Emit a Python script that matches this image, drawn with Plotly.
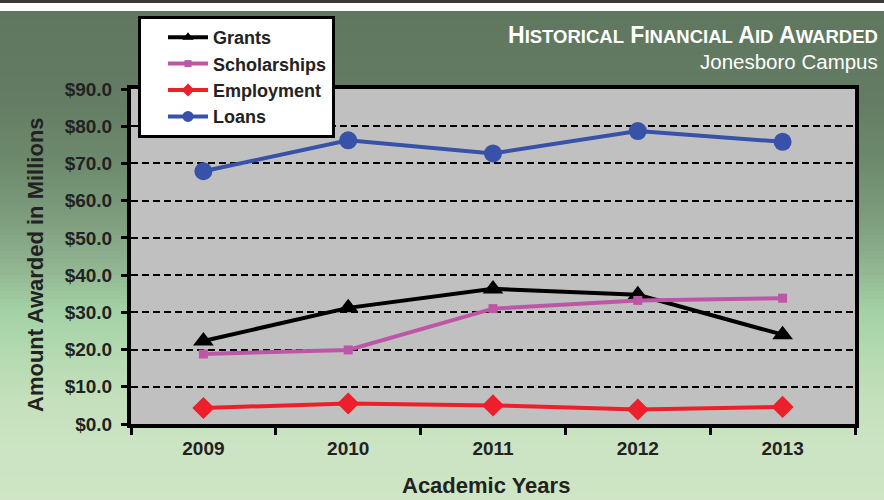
import plotly.graph_objects as go

years = ["2009", "2010", "2011", "2012", "2013"]
grants = [22.3, 31.2, 36.3, 34.7, 24.0]
scholarships = [18.8, 19.9, 31.0, 33.2, 33.8]
employment = [4.3, 5.5, 5.0, 3.9, 4.6]
loans = [67.9, 76.2, 72.7, 78.7, 75.8]

series_names = ["Grants", "Scholarships", "Employment", "Loans"]
title_caps = ["HISTORICAL", "FINANCIAL", "AID", "AWARDED"]
subtitle = "Jonesboro Campus"
ytitle = "Amount Awarded in Millions"
xtitle = "Academic Years"

W, H = 884, 500
L, R, T, B = 131, 855, 89, 424
FONT = "Arial, Liberation Sans, sans-serif"
TXT = "#222222"

def py(ypx):
    return (B - ypx) / (B - T)

def px_(xpx):
    return (xpx - L) / (R - L)

styles = [
    dict(color="#000000", symbol="triangle-up", size=18, lsize=10),
    dict(color="#bd56a6", symbol="square", size=9, lsize=7),
    dict(color="#ec1f2b", symbol="diamond", size=17, lsize=10),
    dict(color="#3752a8", symbol="circle", size=18, lsize=11),
]
values = [grants, scholarships, employment, loans]

fig = go.Figure()
for name, vals, st in zip(series_names, values, styles):
    fig.add_trace(go.Scatter(x=years, y=vals, name=name, mode="lines+markers",
                             legendgroup=name, showlegend=False,
                             line=dict(color=st["color"], width=4),
                             marker=dict(symbol=st["symbol"], size=st["size"], color=st["color"])))
# legend entries (smaller symbols, like the original)
for name, st in zip(series_names, styles):
    fig.add_trace(go.Scatter(x=[None], y=[None], name=name, mode="lines+markers",
                             legendgroup=name, showlegend=True, hoverinfo="skip",
                             line=dict(color=st["color"], width=4),
                             marker=dict(symbol=st["symbol"], size=st["lsize"], color=st["color"])))

# background gradient
stops = [(11, (95, 119, 95)), (100, (99, 124, 99)), (170, (111, 140, 111)),
         (220, (126, 158, 126)), (270, (146, 181, 146)), (310, (163, 209, 165)),
         (350, (179, 217, 176)), (400, (196, 224, 188)), (450, (204, 228, 195)),
         (500, (207, 229, 197))]

def col_at(y):
    for (y0, c0), (y1, c1) in zip(stops[:-1], stops[1:]):
        if y0 <= y <= y1:
            t = (y - y0) / (y1 - y0)
            return "rgb(%d,%d,%d)" % tuple(round(a + (b - a) * t) for a, b in zip(c0, c1))
    return "rgb(%d,%d,%d)" % stops[-1][1]

shapes = []
step = 4
y = 11
while y < H:
    shapes.append(dict(type="rect", xref="paper", yref="paper", layer="below",
                       x0=px_(-5), x1=px_(W + 5), y0=py(min(y + step + 0.5, H + 2)), y1=py(y),
                       fillcolor=col_at(y + step / 2), line=dict(width=0)))
    y += step
shapes.append(dict(type="rect", xref="paper", yref="paper", layer="below",
                   x0=px_(-5), x1=px_(W + 5), y0=py(11), y1=py(3),
                   fillcolor="#ffffff", line=dict(width=0)))
shapes.append(dict(type="rect", xref="paper", yref="paper", layer="below",
                   x0=px_(-5), x1=px_(W + 5), y0=py(3), y1=py(-2),
                   fillcolor="#3a3a3a", line=dict(width=0)))
shapes.append(dict(type="rect", xref="paper", yref="paper", layer="below",
                   x0=0, x1=1, y0=0, y1=1, fillcolor="#c0c0c0", line=dict(width=0)))

big, small = 23, 18.5
title_html = " ".join(
    "%s<span style='font-size:%spx'>%s</span>" % (w[0], small, w[1:]) for w in title_caps)

annotations = [
    dict(text="<b>" + title_html + "</b>", xref="paper", yref="paper",
         x=px_(880), y=py(35), xanchor="right", yanchor="middle", showarrow=False,
         font=dict(family=FONT, size=big, color="#ffffff")),
    dict(text=subtitle, xref="paper", yref="paper",
         x=px_(880), y=py(62), xanchor="right", yanchor="middle", showarrow=False,
         font=dict(family=FONT, size=20.5, color="#ffffff")),
    dict(text="<b>" + ytitle + "</b>", xref="paper", yref="paper", textangle=-90,
         x=px_(35), y=py(265), xanchor="center", yanchor="middle", showarrow=False,
         font=dict(family=FONT, size=22, color=TXT)),
    dict(text="<b>" + xtitle + "</b>", xref="paper", yref="paper",
         x=px_(486), y=py(485), xanchor="center", yanchor="middle", showarrow=False,
         font=dict(family=FONT, size=22, color=TXT)),
]

fig.update_layout(
    width=W, height=H,
    margin=dict(l=L, r=W - R, t=T, b=H - B, autoexpand=False),
    paper_bgcolor="#cfe5c5",
    plot_bgcolor="rgba(0,0,0,0)",
    shapes=shapes,
    annotations=annotations,
    showlegend=True,
    legend=dict(x=px_(138), y=py(16), xanchor="left", yanchor="top",
                bgcolor="#ffffff", bordercolor="#000000", borderwidth=3,
                font=dict(family=FONT, size=18, color=TXT, weight="bold"),
                tracegroupgap=0, itemwidth=40, indentation=22),
    xaxis=dict(type="category", categoryorder="array", categoryarray=years,
               range=[-0.5, len(years) - 0.5], autorange=False,
               showline=True, linecolor="#000000", linewidth=4, mirror=True,
               ticks="outside", tickson="boundaries", ticklen=7, tickwidth=3, tickcolor="#000000",
               showgrid=False, zeroline=False, ticklabelstandoff=4,
               tickfont=dict(family=FONT, size=19, color=TXT, weight="bold")),
    yaxis=dict(range=[0, 90], dtick=10, tickprefix="$", tickformat=".1f",
               showline=True, linecolor="#000000", linewidth=4, mirror=True,
               ticks="outside", ticklen=6, tickwidth=3, tickcolor="#000000",
               showgrid=True, gridcolor="#000000", gridwidth=2, griddash="7px,4px",
               zeroline=False, ticklabelstandoff=5,
               tickfont=dict(family=FONT, size=19, color=TXT, weight="bold")),
)

fig.write_html("out.html", config=dict(displayModeBar=False),
               post_script="document.body.style.margin='0';")
